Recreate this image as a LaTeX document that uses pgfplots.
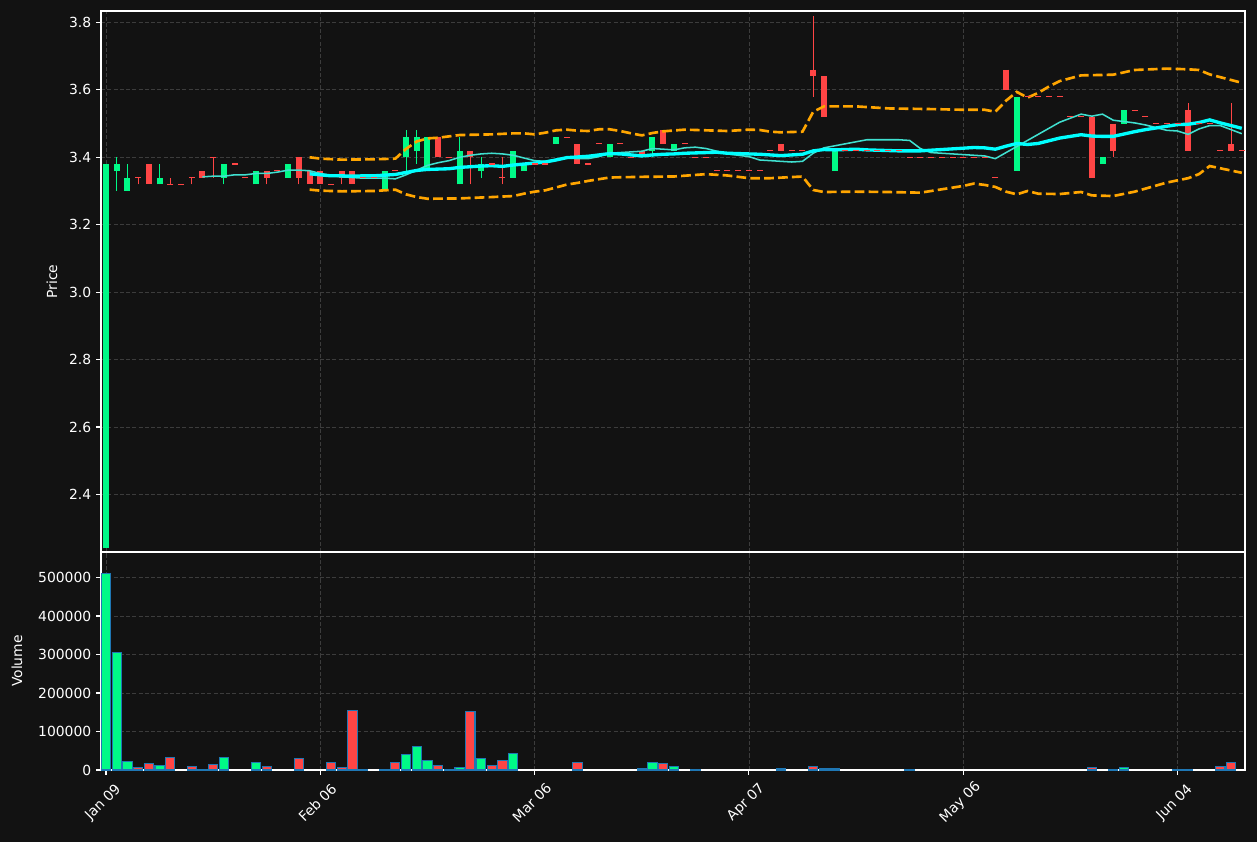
\documentclass[border=0pt]{standalone}
\usepackage{pgfplots}
\pgfplotsset{compat=1.18}
\usepackage{fontspec}
\setmainfont{DejaVu Sans}

\definecolor{bg}{HTML}{121212}
\definecolor{gridc}{HTML}{3C3C3C}
\definecolor{upc}{HTML}{00FA87}
\definecolor{downc}{HTML}{FF4545}
\definecolor{edgec}{HTML}{1F77B4}
\definecolor{ma10c}{HTML}{40E0D0}
\definecolor{ma20c}{HTML}{00FFFF}
\definecolor{bbc}{HTML}{FFA500}

\pgfplotsset{
  panel/.style={
    scale only axis, width=823.68pt,
    xmin=-0.47, xmax=106.3,
    axis line style={white, line width=0.8pt},
    tick style={white, line width=0.8pt},
    major tick length=3.5pt,
    tick align=outside,
    ytick pos=left, xtick pos=bottom,
    grid=major,
    major grid style={gridc, line width=0.6pt, dash pattern=on 3pt off 1.5pt},
    xtick={0,20,40,60,80,100},
    tick label style={text=white},
    label style={text=white},
    /pgf/number format/assume math mode=true,
    unbounded coords=jump,
  },
}

\begin{document}
\begin{tikzpicture}
\fill[bg] (0,0) rectangle (905.04pt,606.24pt);

% price panel
\begin{axis}[panel, at={(72.72pt,208.8pt)}, anchor=south west, height=389.52pt,
  ymin=2.229, ymax=3.834,
  ytick={2.4,2.6,2.8,3.0,3.2,3.4,3.6,3.8},
  yticklabel style={/pgf/number format/.cd, fixed, fixed zerofill, precision=1},
  xmajorticks=false,
  ylabel={Price}, ylabel style={at={(axis description cs:-0.0428,0.5)}, anchor=center},
]
% wicks
\addplot[upc, line width=0.7pt] coordinates {
(1,3.30)(1,3.40) (1,nan) (2,3.30)(2,3.38) (2,nan) (5,3.32)(5,3.38) (5,nan)
(11,3.32)(11,3.38) (11,nan) (28,3.36)(28,3.48) (28,nan) (29,3.38)(29,3.48) (29,nan)
(33,3.32)(33,3.46) (33,nan) (35,3.34)(35,3.40) (35,nan) (51,3.40)(51,3.46)
};
\addplot[downc, line width=0.7pt] coordinates {
(3,3.32)(3,3.34) (3,nan) (6,3.32)(6,3.34) (6,nan) (8,3.32)(8,3.34) (8,nan)
(10,3.34)(10,3.40) (10,nan) (15,3.32)(15,3.36) (15,nan) (18,3.32)(18,3.40) (18,nan)
(22,3.32)(22,3.36) (22,nan) (34,3.32)(34,3.42) (34,nan) (37,3.32)(37,3.40) (37,nan)
(66,3.58)(66,3.82) (66,nan) (94,3.40)(94,3.50) (94,nan) (101,3.42)(101,3.56) (101,nan)
(105,3.42)(105,3.56)
};
% bodies, open to close
\addplot[upc, line width=4.32pt] coordinates {
(0,2.24)(0,3.38) (0,nan) (1,3.36)(1,3.38) (1,nan) (2,3.30)(2,3.34) (2,nan)
(5,3.32)(5,3.34) (5,nan) (11,3.34)(11,3.38) (11,nan) (14,3.32)(14,3.36) (14,nan)
(17,3.34)(17,3.38) (17,nan) (26,3.30)(26,3.36) (26,nan) (28,3.40)(28,3.46) (28,nan)
(29,3.42)(29,3.46) (29,nan) (30,3.36)(30,3.46) (30,nan) (33,3.32)(33,3.42) (33,nan)
(35,3.36)(35,3.38) (35,nan) (38,3.34)(38,3.42) (38,nan) (39,3.36)(39,3.38) (39,nan)
(42,3.44)(42,3.46) (42,nan) (47,3.40)(47,3.44) (47,nan) (51,3.42)(51,3.46) (51,nan)
(53,3.42)(53,3.44) (53,nan) (68,3.36)(68,3.42) (68,nan) (85,3.36)(85,3.58) (85,nan)
(93,3.38)(93,3.40) (93,nan) (95,3.50)(95,3.54)
};
\addplot[downc, line width=4.32pt] coordinates {
(4,3.38)(4,3.32) (4,nan) (9,3.36)(9,3.34) (9,nan) (15,3.36)(15,3.34) (15,nan)
(18,3.40)(18,3.34) (18,nan) (19,3.36)(19,3.32) (19,nan) (20,3.36)(20,3.32) (20,nan)
(22,3.36)(22,3.34) (22,nan) (23,3.36)(23,3.32) (23,nan) (31,3.46)(31,3.40) (31,nan)
(34,3.42)(34,3.40) (34,nan) (44,3.44)(44,3.38) (44,nan) (50,3.42)(50,3.40) (50,nan)
(52,3.48)(52,3.44) (52,nan) (63,3.44)(63,3.42) (63,nan) (66,3.66)(66,3.64) (66,nan)
(67,3.64)(67,3.52) (67,nan) (84,3.66)(84,3.60) (84,nan) (92,3.52)(92,3.34) (92,nan)
(94,3.50)(94,3.42) (94,nan) (101,3.54)(101,3.42) (101,nan) (105,3.44)(105,3.42)
};
% open = close
\addplot[only marks, mark=-, mark size=2.16pt, downc, mark options={line width=0.8pt}] coordinates {
(3,3.34)(6,3.32)(7,3.32)(8,3.34)(10,3.40)(12,3.38)(13,3.34)(16,3.36)(21,3.32)
(24,3.34)(25,3.34)(27,3.36)(32,3.40)(36,3.38)(37,3.34)(40,3.38)(41,3.38)(43,3.46)
(45,3.38)(46,3.44)(48,3.44)(49,3.40)(54,3.44)(55,3.40)(56,3.40)(57,3.36)(58,3.36)
(59,3.36)(60,3.36)(61,3.36)(62,3.42)(64,3.42)(65,3.42)(69,3.42)(70,3.42)(71,3.42)
(72,3.42)(73,3.42)(74,3.42)(75,3.40)(76,3.40)(77,3.40)(78,3.40)(79,3.40)(80,3.40)
(81,3.40)(82,3.40)(83,3.34)(86,3.58)(87,3.58)(88,3.58)(89,3.58)(90,3.52)(91,3.52)
(96,3.54)(97,3.52)(98,3.50)(99,3.50)(100,3.50)(102,3.50)(103,3.50)(104,3.42)(106,3.42)
};
% bands
\addplot[bbc, line width=1.9pt, dash pattern=on 7pt off 3pt] coordinates {
(19,3.400)(20,3.396)(22,3.393)(25,3.394)(27,3.396)(28,3.425)(29,3.447)(30,3.456)
(31,3.458)(33,3.466)(36,3.468)(38,3.471)(39,3.471)(40,3.468)(41,3.473)(42,3.480)
(43,3.482)(44,3.479)(45,3.478)(46,3.483)(47,3.483)(48,3.478)(49,3.471)(50,3.465)
(51,3.472)(52,3.477)(54,3.482)(56,3.480)(58,3.478)(60,3.482)(61,3.481)(62,3.476)
(63,3.474)(65,3.476)(66,3.535)(67,3.551)(70,3.551)(73,3.545)(77,3.543)(80,3.541)
(82,3.541)(83,3.535)(84,3.568)(85,3.594)(86,3.577)(87,3.591)(88,3.610)(89,3.626)
(91,3.643)(94,3.645)(96,3.659)(99,3.663)(101,3.661)(102,3.659)(103,3.646)(106,3.621)
};
\addplot[bbc, line width=1.9pt, dash pattern=on 7pt off 3pt] coordinates {
(19,3.304)(20,3.301)(22,3.299)(25,3.300)(27,3.304)(28,3.290)(29,3.282)(30,3.277)
(33,3.278)(36,3.282)(38,3.285)(39,3.292)(40,3.298)(41,3.302)(43,3.319)(44,3.324)
(45,3.330)(47,3.340)(50,3.342)(53,3.343)(56,3.350)(58,3.346)(60,3.338)(62,3.338)
(65,3.343)(66,3.303)(67,3.297)(70,3.298)(73,3.297)(76,3.295)(78,3.305)(80,3.315)
(81,3.322)(82,3.318)(83,3.312)(84,3.298)(85,3.290)(86,3.300)(87,3.292)(89,3.291)
(91,3.297)(92,3.287)(94,3.285)(96,3.298)(99,3.325)(101,3.338)(102,3.350)(103,3.374)
(106,3.354)
};
% moving averages
\addplot[ma10c, line width=1.1pt] coordinates {
(9,3.342)(10,3.344)(11,3.344)(12,3.348)(13,3.348)(14,3.352)(15,3.352)(16,3.356)
(17,3.362)(18,3.362)(19,3.360)(20,3.352)(21,3.346)(22,3.342)(23,3.340)(24,3.338)
(25,3.338)(26,3.338)(27,3.336)(28,3.348)(29,3.362)(30,3.376)(31,3.384)(32,3.390)
(33,3.400)(34,3.406)(35,3.410)(36,3.412)(37,3.410)(38,3.406)(39,3.398)(40,3.390)
(41,3.388)(42,3.394)(43,3.398)(44,3.396)(45,3.396)(46,3.402)(47,3.412)(48,3.414)
(49,3.416)(50,3.418)(51,3.426)(52,3.424)(53,3.422)(54,3.428)(55,3.430)(56,3.426)
(57,3.418)(58,3.410)(59,3.406)(60,3.402)(61,3.392)(62,3.390)(63,3.388)(64,3.386)
(65,3.388)(66,3.412)(67,3.428)(68,3.434)(69,3.440)(70,3.446)(71,3.452)(72,3.452)
(73,3.452)(74,3.452)(75,3.450)(76,3.426)(77,3.414)(78,3.412)(79,3.410)(80,3.408)
(81,3.406)(82,3.404)(83,3.396)(84,3.414)(85,3.432)(86,3.450)(87,3.468)(88,3.486)
(89,3.504)(90,3.516)(91,3.528)(92,3.522)(93,3.528)(94,3.510)(95,3.506)(96,3.502)
(97,3.496)(98,3.488)(99,3.480)(100,3.478)(101,3.468)(102,3.484)(103,3.494)(104,3.494)
(105,3.482)(106,3.470)
};
\addplot[ma20c, line width=2.4pt] coordinates {
(19,3.351)(20,3.348)(21,3.345)(22,3.345)(23,3.344)(24,3.345)(25,3.345)(26,3.347)
(27,3.349)(28,3.355)(29,3.361)(30,3.364)(31,3.365)(32,3.366)(33,3.370)(34,3.372)
(35,3.374)(36,3.375)(37,3.373)(38,3.377)(39,3.380)(40,3.383)(41,3.386)(42,3.392)
(43,3.399)(44,3.401)(45,3.403)(46,3.407)(47,3.411)(48,3.410)(49,3.407)(50,3.404)
(51,3.407)(52,3.409)(53,3.410)(54,3.412)(55,3.413)(56,3.414)(57,3.415)(58,3.412)
(59,3.411)(60,3.410)(61,3.409)(62,3.407)(63,3.405)(64,3.407)(65,3.409)(66,3.419)
(67,3.423)(68,3.422)(69,3.423)(70,3.424)(71,3.422)(72,3.421)(73,3.420)(74,3.419)
(75,3.419)(76,3.419)(77,3.421)(78,3.423)(79,3.425)(80,3.427)(81,3.429)(82,3.428)
(83,3.424)(84,3.433)(85,3.441)(86,3.438)(87,3.441)(88,3.449)(89,3.457)(90,3.462)
(91,3.467)(92,3.463)(93,3.462)(94,3.462)(95,3.469)(96,3.476)(97,3.482)(98,3.487)
(99,3.492)(100,3.497)(101,3.498)(102,3.503)(103,3.511)(104,3.502)(105,3.494)(106,3.486)
};
\end{axis}

% volume panel
\begin{axis}[panel, at={(72.72pt,51.84pt)}, anchor=south west, height=156.96pt,
  ymin=0, ymax=566200, scaled y ticks=false,
  ytick={0,100000,200000,300000,400000,500000},
  yticklabels={0,100000,200000,300000,400000,500000},
  xticklabels={Jan 09,Feb 06,Mar 06,Apr 07,May 06,Jun 04},
  xticklabel style={xshift=-2pt, yshift=-20pt, rotate=45, anchor=center},
  ylabel={Volume}, ylabel style={at={(axis description cs:-0.0734,0.5)}, anchor=center},
]
\addplot[ybar, bar width=0.86, bar shift=0pt, fill=upc, draw=edgec, line width=0.8pt] coordinates {
(0,511000)(1,305000)(2,22500)(5,12000)(11,33000)(14,20000)(26,1500)(28,41000)
(29,61500)(30,25000)(33,7000)(35,30000)(38,43000)(51,20000)(53,9000)(68,4000)(95,7000)
};
\addplot[ybar, bar width=0.86, bar shift=0pt, fill=downc, draw=edgec, line width=0.8pt] coordinates {
(3,7000)(4,17000)(6,33000)(8,9500)(9,1500)(10,15000)(15,9500)(18,30000)(21,20000)
(22,7000)(23,154000)(24,1500)(27,20000)(31,12000)(32,1500)(34,152000)(36,12000)
(37,25000)(44,20000)(50,4000)(52,17000)(55,2000)(63,4000)(66,9500)(67,4000)(75,2000)
(92,7000)(94,2000)(100,1500)(101,1500)(104,9000)(105,20000)
};
\end{axis}

\pgfresetboundingbox
\path[use as bounding box] (0,0) rectangle (905.04pt,606.24pt);
\end{tikzpicture}
\end{document}
